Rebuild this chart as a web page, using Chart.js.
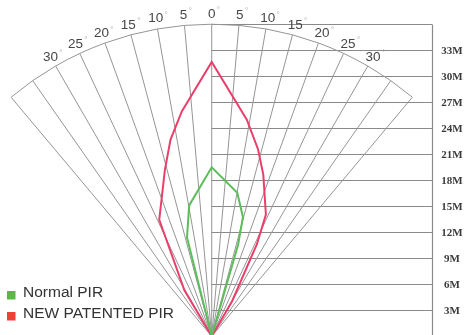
<!DOCTYPE html>
<html>
<head>
<meta charset="utf-8">
<script src="https://cdn.jsdelivr.net/npm/chart.js@4"></script>
<style>
  html, body { margin: 0; padding: 0; background: #fff; }
  canvas { display: block; }
</style>
</head>
<body>
<canvas id="fan" width="464" height="335"></canvas>
<script>
// detection zones, metres: x = sideways from the sensor axis, y = distance
const seriesNames = ['Normal PIR', 'NEW PATENTED PIR'];
const lineColors = ['#5dbd5b', '#ea3f6b'];
const legendColors = ['#58b947', '#ee4133'];

const normalX = [0, -2.85, -2.6, 0, 2.95, 3.6, 3.05, 0];
const normalY = [0, 11.4, 15.1, 19.5, 16.55, 13.75, 10.6, 0];

const patentX = [0, -3.15, -6.05, -5.4, -4.75, -3.45, 0, 4.05, 5.35, 5.95, 6.25, 5.2, 2.35, 0];
const patentY = [0, 5.3, 13.45, 19.2, 22.7, 25.95, 31.65, 25.0, 21.55, 18.65, 14.05, 10.6, 4.05, 0];

// grid
const angleLabels = [0, 5, 10, 15, 20, 25, 30];
const rayAngles = [5, 10, 15, 20, 25, 30, 35, 40];
const distanceTicks = [3, 6, 9, 12, 15, 18, 21, 24, 27, 30, 33, 36];
const distanceLabels = ['3M', '6M', '9M', '12M', '15M', '18M', '21M', '24M', '27M', '30M', '33M', ''];
const fanRadius = 36;
const fanEdge = 40;
const gridRight = 25.4;

function toPoints(xs, ys) {
  return xs.map((x, i) => ({ x: x, y: ys[i] }));
}

const fanGrid = {
  id: 'fanGrid',
  beforeDatasetsDraw(chart) {
    const ctx = chart.ctx;
    const sx = chart.scales.x;
    const sy = chart.scales.y;
    const ox = sx.getPixelForValue(0);
    const oy = sy.getPixelForValue(0);
    const polar = (deg, r) => {
      const a = deg * Math.PI / 180;
      return [sx.getPixelForValue(r * Math.sin(a)), sy.getPixelForValue(r * Math.cos(a))];
    };

    ctx.save();
    // horizontal distance lines + right border
    ctx.strokeStyle = '#8a8a8a';
    ctx.lineWidth = 1.2;
    const right = Math.round(sx.getPixelForValue(gridRight)) + 0.5;
    distanceTicks.forEach((d) => {
      const y = Math.round(sy.getPixelForValue(d)) + 0.5;
      ctx.beginPath();
      ctx.moveTo(ox, y);
      ctx.lineTo(right, y);
      ctx.stroke();
    });
    ctx.beginPath();
    ctx.moveTo(right, sy.getPixelForValue(fanRadius) + 0.5);
    ctx.lineTo(right, chart.height);
    ctx.stroke();

    // rays
    ctx.strokeStyle = '#959595';
    ctx.lineWidth = 1;
    const rays = [0].concat(rayAngles, rayAngles.map((a) => -a));
    rays.forEach((a) => {
      const [x, y] = polar(a, fanRadius);
      ctx.beginPath();
      ctx.moveTo(ox, oy);
      ctx.lineTo(x, y);
      ctx.stroke();
    });

    // outer arc
    const rpx = sx.getPixelForValue(fanRadius) - ox;
    ctx.beginPath();
    ctx.arc(ox, oy, rpx, (-90 - fanEdge) * Math.PI / 180, (-90 + fanEdge) * Math.PI / 180);
    ctx.stroke();

    // angle labels
    ctx.textAlign = 'center';
    ctx.textBaseline = 'middle';
    angleLabels.forEach((a) => {
      const sides = a === 0 ? [0] : [-a, a];
      sides.forEach((s) => {
        const [x, y] = polar(s, 37.2);
        ctx.font = '13.5px "Liberation Sans", Arial, sans-serif';
        ctx.fillStyle = '#474747';
        const txt = String(a);
        const w = ctx.measureText(txt).width;
        ctx.fillText(txt, x, y);
        ctx.font = '8px "Liberation Sans", Arial, sans-serif';
        ctx.fillStyle = '#aaa';
        ctx.fillText('°', x + w / 2 + 3, y - 4);
      });
    });

    // distance labels
    ctx.font = 'bold 11px "Liberation Serif", "Times New Roman", serif';
    ctx.fillStyle = '#3a3a3a';
    distanceTicks.forEach((d, i) => {
      if (!distanceLabels[i]) return;
      ctx.fillText(distanceLabels[i], right + 19.5, sy.getPixelForValue(d) + 1);
    });
    ctx.restore();
  },
  afterDraw(chart) {
    const ctx = chart.ctx;
    ctx.save();
    ctx.font = '15.5px "Liberation Sans", Arial, sans-serif';
    ctx.textAlign = 'left';
    ctx.textBaseline = 'alphabetic';
    seriesNames.forEach((name, i) => {
      const base = 297 + i * 21;
      ctx.fillStyle = legendColors[i];
      ctx.fillRect(7, base - 6, 8.5, 8.5);
      ctx.fillStyle = '#333';
      ctx.fillText(name, 23, base);
    });
    ctx.restore();
  }
};

new Chart(document.getElementById('fan'), {
  type: 'scatter',
  data: {
    datasets: [
      {
        label: seriesNames[0],
        data: toPoints(normalX, normalY),
        borderColor: lineColors[0],
      },
      {
        label: seriesNames[1],
        data: toPoints(patentX, patentY),
        borderColor: lineColors[1],
      },
    ].map((ds) => Object.assign(ds, {
      showLine: true,
      fill: false,
      borderWidth: 2,
      pointRadius: 0,
      tension: 0,
      clip: false,
    })),
  },
  options: {
    responsive: false,
    animation: false,
    devicePixelRatio: 1,
    layout: { padding: 0 },
    plugins: {
      legend: { display: false },
      tooltip: { enabled: false },
    },
    scales: {
      x: { type: 'linear', min: -24.42, max: 29.1, display: false },
      y: { type: 'linear', min: 0.15, max: 38.8, display: false },
    },
  },
  plugins: [fanGrid],
});
</script>
</body>
</html>
